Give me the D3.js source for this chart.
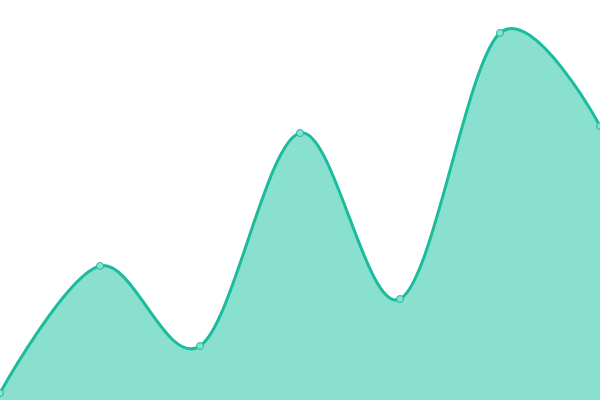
<!DOCTYPE html>
<html>
<head>
<meta charset="utf-8">
<script src="https://cdn.jsdelivr.net/npm/d3@7"></script>
<style>
  html, body { margin: 0; padding: 0; background: #fff; }
  svg { display: block; }
</style>
</head>
<body>
<div id="vis"></div>
<script>
const xIndex = [0, 1, 2, 3, 4, 5, 6];
const values = [7, 134, 54, 267, 101, 367, 274];

const width = 600;
const height = 400;

const svg = d3.select("#vis").append("svg")
    .attr("width", width)
    .attr("height", height);

const x = d3.scaleLinear().domain([0, 6]).range([0, width]);
const y = d3.scaleLinear().domain([0, 400]).range([height, 0]);

const pts = xIndex.map((d, i) => ({ i: d, v: values[i] }));

const area = d3.area()
    .curve(d3.curveCardinal)
    .x(d => x(d.i))
    .y0(y(0))
    .y1(d => y(d.v));

const line = d3.line()
    .curve(d3.curveCardinal)
    .x(d => x(d.i))
    .y(d => y(d.v));

svg.append("path")
    .datum(pts)
    .attr("fill", "#8ae0cf")
    .attr("d", area);

svg.append("path")
    .datum(pts)
    .attr("fill", "none")
    .attr("stroke", "#1abc9c")
    .attr("stroke-width", 3)
    .attr("d", line);

svg.selectAll("circle")
    .data(pts)
    .enter()
    .append("circle")
    .attr("cx", d => x(d.i))
    .attr("cy", d => y(d.v))
    .attr("r", 3.5)
    .attr("fill", "#8ae0cf")
    .attr("stroke", "#1abc9c")
    .attr("stroke-width", 1);
</script>
</body>
</html>
